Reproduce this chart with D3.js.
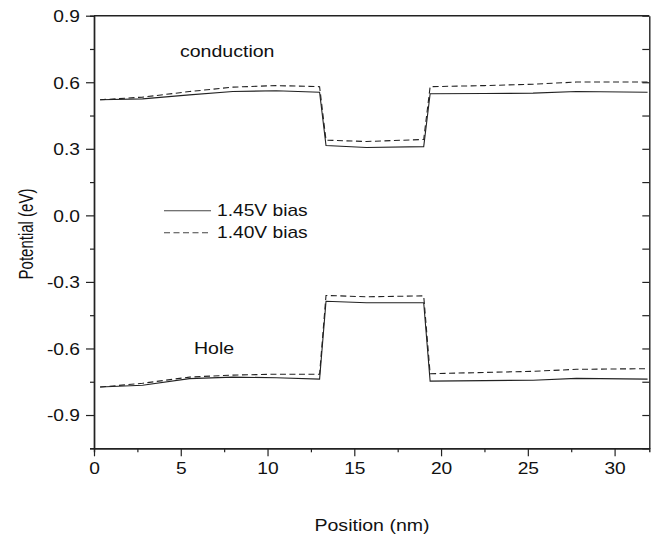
<!DOCTYPE html>
<html>
<head>
<meta charset="utf-8">
<script src="https://cdn.jsdelivr.net/npm/d3@7"></script>
<style>
  body { margin: 0; background: #fff; }
  text { font-family: "Liberation Sans", Arial, sans-serif; fill: #111; }
</style>
</head>
<body>
<svg id="chart" width="665" height="537"></svg>
<script>
// positions along the device (nm)
var position = [0.35, 2.8, 5.5, 8.0, 10.5, 13.0, 13.37, 15.7, 19.0, 19.37, 22.5, 25.3, 27.8, 31.9]

// potential (eV), 1.45V bias = solid, 1.40V bias = dashed
var condSolid  = [0.521, 0.525, 0.543, 0.558, 0.562, 0.555, 0.315, 0.306, 0.310, 0.548, 0.549, 0.551, 0.558, 0.555]
var condDashed = [0.521, 0.533, 0.558, 0.578, 0.585, 0.580, 0.339, 0.333, 0.342, 0.580, 0.585, 0.591, 0.601, 0.601]
var holeSolid  = [-0.774, -0.766, -0.736, -0.729, -0.732, -0.738, -0.387, -0.394, -0.394, -0.747, -0.745, -0.743, -0.735, -0.738]
var holeDashed = [-0.774, -0.757, -0.729, -0.720, -0.716, -0.716, -0.361, -0.367, -0.363, -0.714, -0.708, -0.703, -0.694, -0.691]

var xTicks = [0, 5, 10, 15, 20, 25, 30]
var xMinorTicks = [2.5, 7.5, 12.5, 17.5, 22.5, 27.5]
var yTicks = [-0.9, -0.6, -0.3, 0.0, 0.3, 0.6, 0.9]
var yMinorTicks = [-1.05, -0.75, -0.45, -0.15, 0.15, 0.45, 0.75]

var legendLabels = ['1.45V bias', '1.40V bias']

var marginLeft = 94, marginTop = 15.7
var plotWidth = 555.3, plotHeight = 432.6
var stretch = 1.2

var svg = d3.select('#chart')
var g = svg.append('g').attr('transform', 'translate(' + marginLeft + ',' + marginTop + ')')

var xScale = d3.scaleLinear().domain([0, 32]).range([0, plotWidth])
var yScale = d3.scaleLinear().domain([-1.05, 0.9]).range([plotHeight, 0])

function styleAxis(sel) {
    sel.selectAll('.domain').attr('stroke', '#222').attr('stroke-width', 1.4)
    sel.selectAll('.tick line').attr('stroke', '#222').attr('stroke-width', 1.2)
}

// minor ticks
g.append('g')
    .call(d3.axisLeft(yScale).tickValues(yMinorTicks).tickSize(4).tickFormat(''))
    .call(styleAxis)
g.append('g')
    .attr('transform', 'translate(0,' + plotHeight + ')')
    .call(d3.axisBottom(xScale).tickValues(xMinorTicks).tickSize(4).tickFormat(''))
    .call(styleAxis)

// left axis
var yAxisG = g.append('g')
    .call(d3.axisLeft(yScale).tickValues(yTicks).tickSize(8).tickSizeOuter(0)
        .tickFormat(function (d) { return d.toFixed(1) }))
    .call(styleAxis)
yAxisG.selectAll('text')
    .attr('x', -14 / stretch)
    .attr('dy', '0.36em')
    .attr('transform', 'scale(' + stretch + ',1)')
    .style('font-size', '16px')
    .style('font-family', '"Liberation Sans", Arial, sans-serif')
    .attr('fill', '#111')

// bottom axis
var xAxisG = g.append('g')
    .attr('transform', 'translate(0,' + plotHeight + ')')
    .call(d3.axisBottom(xScale).tickValues(xTicks).tickSize(8).tickSizeOuter(0).tickPadding(6.5))
    .call(styleAxis)
xAxisG.selectAll('text')
    .attr('transform', 'scale(' + stretch + ',1)')
    .style('font-size', '16px')
    .style('font-family', '"Liberation Sans", Arial, sans-serif')
    .attr('fill', '#111')

// right axis, ticks pointing in
g.append('g')
    .attr('transform', 'translate(' + plotWidth + ',0)')
    .call(d3.axisLeft(yScale).tickValues(yTicks.concat(yMinorTicks)).tickSize(7).tickSizeOuter(0).tickFormat(''))
    .call(styleAxis)
    .selectAll('.tick line').attr('x2', -7)

// top border
g.append('line')
    .attr('x1', 0).attr('x2', plotWidth)
    .attr('y1', 0).attr('y2', 0)
    .attr('stroke', '#222').attr('stroke-width', 1.4)

// curves
var line = d3.line()
    .x(function (d) { return xScale(d[0]) })
    .y(function (d) { return yScale(d[1]) })

var series = [
    { values: condSolid, dash: null },
    { values: condDashed, dash: '6,3.5' },
    { values: holeSolid, dash: null },
    { values: holeDashed, dash: '6,3.5' }
]

g.selectAll('path.curve')
    .data(series)
    .enter()
    .append('path')
    .attr('class', 'curve')
    .attr('fill', 'none')
    .attr('stroke', '#222')
    .attr('stroke-width', 1.1)
    .attr('stroke-dasharray', function (d) { return d.dash })
    .attr('d', function (d) {
        return line(position.map(function (p, i) { return [p, d.values[i]] }))
    })

// legend
var legend = svg.append('g')
legendLabels.forEach(function (lab, i) {
    var ly = 210.7 + i * 22
    legend.append('line')
        .attr('x1', 164).attr('x2', 211)
        .attr('y1', ly).attr('y2', ly)
        .attr('stroke', '#444').attr('stroke-width', 1.1)
        .attr('stroke-dasharray', i === 1 ? '6,3.5' : null)
    legend.append('text')
        .attr('transform', 'translate(217,' + (ly + 5.6) + ') scale(' + stretch + ',1)')
        .style('font-size', '16px')
        .text(lab)
})

// annotations
svg.append('text')
    .attr('transform', 'translate(180,57.3) scale(1.15,1)')
    .style('font-size', '17px')
    .text('conduction')
svg.append('text')
    .attr('transform', 'translate(194,354) scale(1.15,1)')
    .style('font-size', '17px')
    .text('Hole')

// axis titles
svg.append('text')
    .attr('transform', 'translate(372,531) scale(1.15,1)')
    .attr('text-anchor', 'middle')
    .style('font-size', '17px')
    .text('Position (nm)')
svg.append('text')
    .attr('transform', 'translate(32.5,234) rotate(-90) scale(1,1.3)')
    .attr('text-anchor', 'middle')
    .style('font-size', '15px')
    .text('Potential (eV)')
</script>
</body>
</html>
